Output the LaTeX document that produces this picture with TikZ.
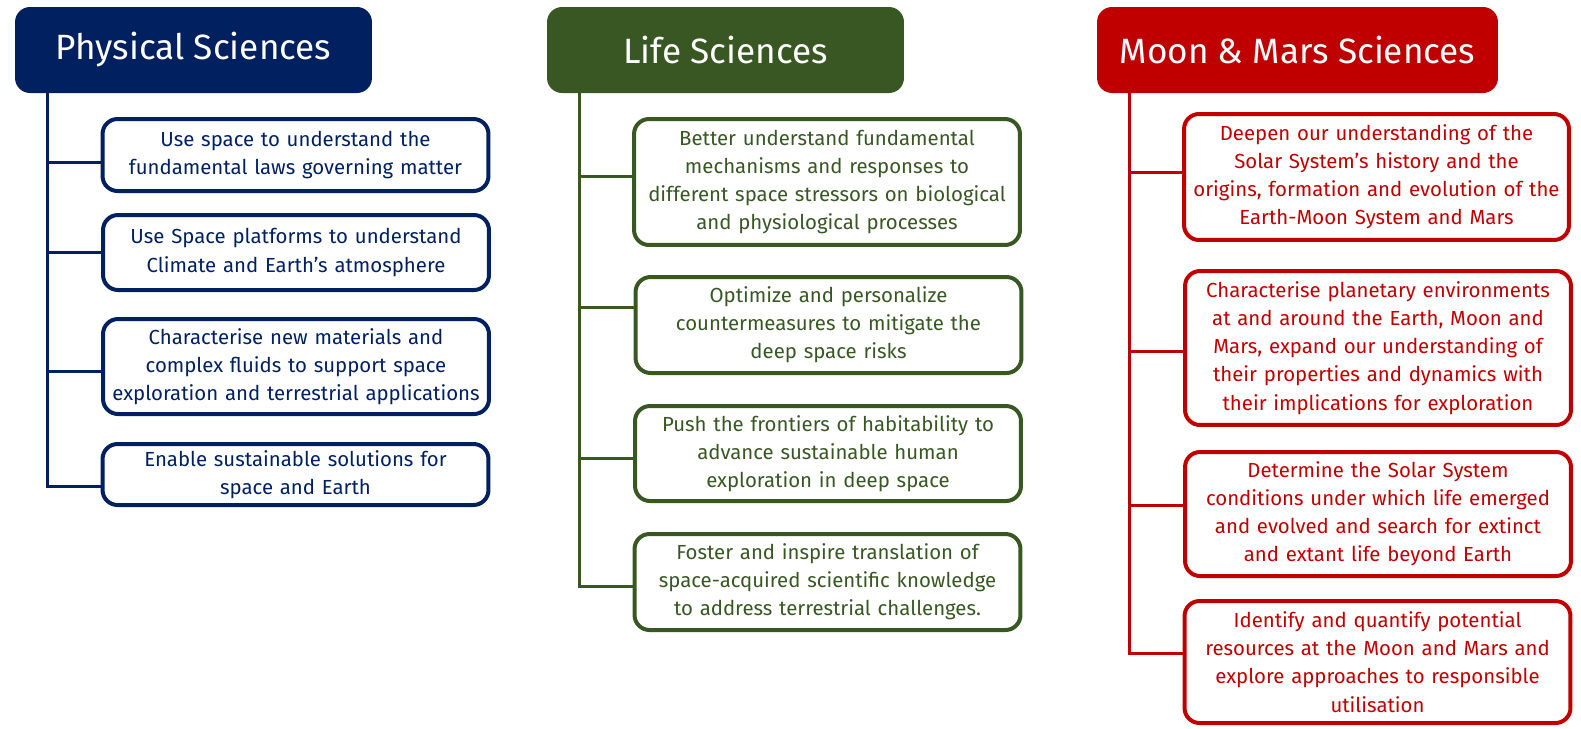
\documentclass[tikz,border=0pt]{standalone}
\usepackage{fontspec}
\setmainfont{Fira Sans}
\usepackage{tikz}
\usetikzlibrary{positioning}

\definecolor{physblue}{HTML}{002060}
\definecolor{lifegreen}{HTML}{385723}
\definecolor{marsred}{HTML}{C00000}

\begin{document}
\begin{tikzpicture}[
x=0.02cm, y=-0.02cm,
header/.style={rectangle,
  rounded corners=0.3cm,
  fill=#1,
  text=white,
  minimum height=1.72cm,
  font=\fontsize{20}{24}\selectfont
},
goal/.style={rectangle,
  draw=#1,
  text=#1,
  line width=0.08cm,
  rounded corners=0.3cm,
  inner sep=0pt,
  text width=7.6cm,
  align=center,
  font=\fontsize{11.6}{16}\selectfont
},
trunk/.style={draw=#1, line width=0.06cm}
]
\useasboundingbox (0,0) rectangle (1581,728);

% Physical Sciences
\node[header=physblue, minimum width=7.14cm] (ph) at (193.5,50)
    {Physical Sciences};
\node[goal=physblue, minimum width=7.72cm, minimum height=1.44cm] (p1) at (295.5,155)
    {Use space to understand the\\fundamental laws governing matter};
\node[goal=physblue, minimum width=7.72cm, minimum height=1.5cm] (p2) at (296,252.5)
    {Use Space platforms to understand\\Climate and Earth's atmosphere};
\node[goal=physblue, minimum width=7.72cm, minimum height=1.9cm] (p3) at (296,366.5)
    {Characterise new materials and\\complex fluids to support space\\exploration and terrestrial applications};
\node[goal=physblue, minimum width=7.72cm, minimum height=1.22cm] (p4) at (295.5,474.5)
    {Enable sustainable solutions for\\space and Earth};

% Life Sciences
\node[header=lifegreen, minimum width=7.14cm] (ls) at (725.5,50)
    {Life Sciences};
\node[goal=lifegreen, minimum width=7.72cm, minimum height=2.52cm] (l1) at (827,182)
    {Better understand fundamental\\mechanisms and responses to\\different space stressors on biological\\and physiological processes};
\node[goal=lifegreen, minimum width=7.72cm, minimum height=1.92cm] (l2) at (828.5,325)
    {Optimize and personalize\\countermeasures to mitigate the\\deep space risks};
\node[goal=lifegreen, minimum width=7.72cm, minimum height=1.9cm] (l3) at (828,453.5)
    {Push the frontiers of habitability to\\advance sustainable human\\exploration in deep space};
\node[goal=lifegreen, minimum width=7.72cm, minimum height=1.92cm] (l4) at (827.5,582)
    {Foster and inspire translation of\\space-acquired scientific knowledge\\to address terrestrial challenges.};

% Moon & Mars Sciences
\node[header=marsred, minimum width=8.02cm] (mm) at (1297.5,50)
    {Moon \& Mars Sciences};
\node[goal=marsred, minimum width=7.7cm, minimum height=2.52cm] (m1) at (1376.5,177)
    {Deepen our understanding of the\\Solar System's history and the\\origins, formation and evolution of the\\Earth-Moon System and Mars};
\node[goal=marsred, minimum width=7.72cm, minimum height=3.08cm] (m2) at (1378,348)
    {Characterise planetary environments\\at and around the Earth, Moon and\\Mars, expand our understanding of\\their properties and dynamics with\\their implications for exploration};
\node[goal=marsred, minimum width=7.72cm, minimum height=2.48cm] (m3) at (1378,514)
    {Determine the Solar System\\conditions under which life emerged\\and evolved and search for extinct\\and extant life beyond Earth};
\node[goal=marsred, minimum width=7.72cm, minimum height=2.44cm] (m4) at (1377.5,662)
    {Identify and quantify potential\\resources at the Moon and Mars and\\explore approaches to responsible\\utilisation};

% tree lines
\coordinate (pt) at (47,93);
\coordinate (p1s) at ([yshift=-0.14cm]p1.west);
\coordinate (p3s) at ([yshift=-0.09cm]p3.west);
\coordinate (p4s) at ([yshift=-0.23cm]p4.west);
\draw[trunk=physblue] (pt) |- (p4s);
\draw[trunk=physblue] (pt |- p1s) -- (p1s);
\draw[trunk=physblue] (pt |- p2.west) -- (p2.west);
\draw[trunk=physblue] (pt |- p3s) -- (p3s);

\coordinate (lt) at (579,93);
\coordinate (l1s) at ([yshift=0.12cm]l1.west);
\coordinate (l2s) at ([yshift=0.36cm]l2.west);
\coordinate (l3s) at ([yshift=-0.09cm]l3.west);
\coordinate (l4s) at ([yshift=-0.08cm]l4.west);
\draw[trunk=lifegreen] (lt) |- (l4s);
\draw[trunk=lifegreen] (lt |- l1s) -- (l1s);
\draw[trunk=lifegreen] (lt |- l2s) -- (l2s);
\draw[trunk=lifegreen] (lt |- l3s) -- (l3s);

\coordinate (mt) at (1129,93);
\coordinate (m1s) at ([yshift=0.1cm]m1.west);
\coordinate (m2s) at ([yshift=-0.06cm]m2.west);
\coordinate (m3s) at ([yshift=0.18cm]m3.west);
\coordinate (m4s) at ([yshift=0.18cm]m4.west);
\draw[trunk=marsred] (mt) |- (m4s);
\draw[trunk=marsred] (mt |- m1s) -- (m1s);
\draw[trunk=marsred] (mt |- m2s) -- (m2s);
\draw[trunk=marsred] (mt |- m3s) -- (m3s);
\end{tikzpicture}
\end{document}
